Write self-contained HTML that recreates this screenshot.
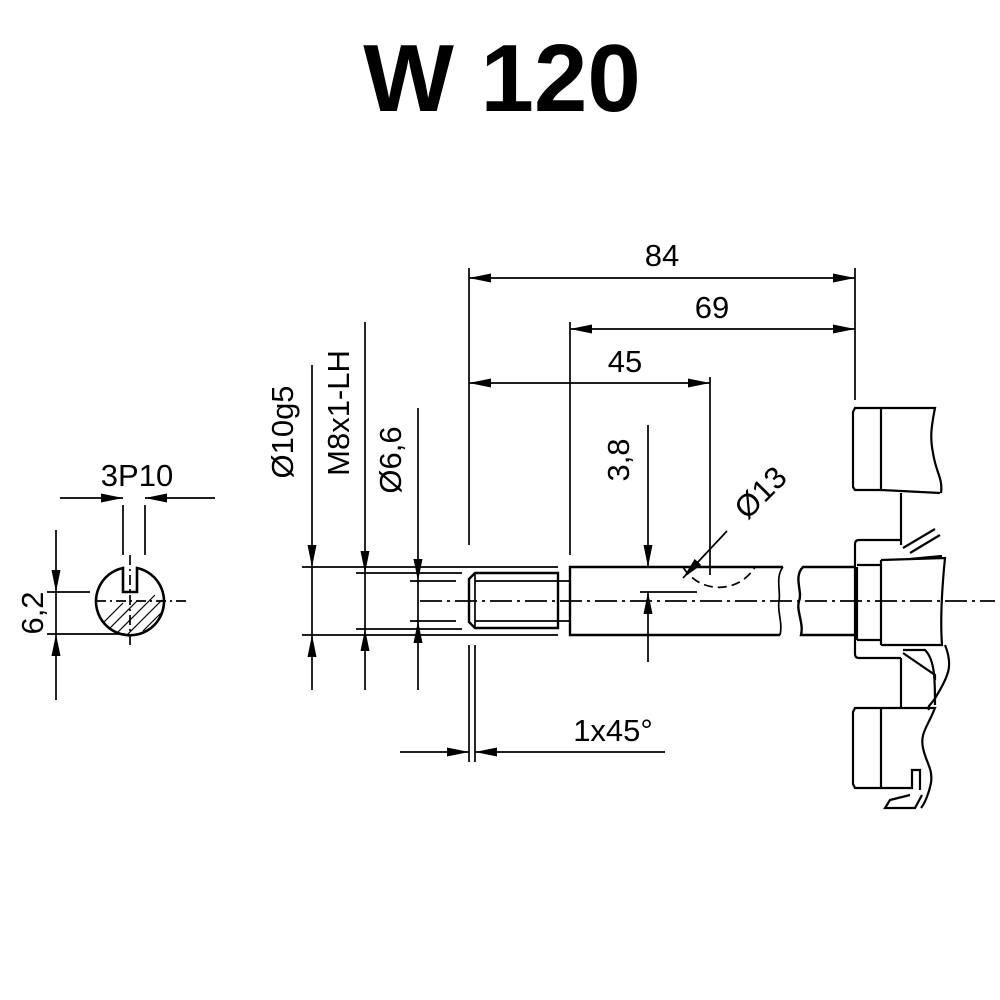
<!DOCTYPE html>
<html><head><style>body{margin:0;background:#fff}svg{display:block}</style></head><body>
<svg width="1000" height="1000" viewBox="0 0 1000 1000" xmlns="http://www.w3.org/2000/svg" font-family="Liberation Sans, sans-serif">
<defs>
<marker id="a" viewBox="0 0 22 9" refX="22" refY="4.5" markerWidth="22" markerHeight="9" markerUnits="userSpaceOnUse" orient="auto-start-reverse"><path d="M0,0L22,4.5L0,9Z" fill="#000"/></marker>
</defs>
<text x="502" y="111" font-size="96" font-weight="bold" text-anchor="middle">W 120</text>
<g stroke="#000" fill="none" stroke-width="1.7">
<line x1="469" y1="268" x2="469" y2="545"/>
<line x1="855" y1="268" x2="855" y2="400"/>
<line x1="570" y1="322" x2="570" y2="555"/>
<line x1="710" y1="377" x2="710" y2="575"/>
<line x1="469" y1="278" x2="855" y2="278" marker-start="url(#a)" marker-end="url(#a)"/>
<line x1="570" y1="329" x2="855" y2="329" marker-start="url(#a)" marker-end="url(#a)"/>
<line x1="469" y1="383" x2="710" y2="383" marker-start="url(#a)" marker-end="url(#a)"/>
<line x1="312" y1="365" x2="312" y2="567" marker-end="url(#a)"/>
<line x1="312" y1="635" x2="312" y2="690" marker-start="url(#a)"/>
<line x1="312" y1="567" x2="312" y2="635"/>
<line x1="365" y1="322" x2="365" y2="573" marker-end="url(#a)"/>
<line x1="365" y1="629" x2="365" y2="690" marker-start="url(#a)"/>
<line x1="365" y1="573" x2="365" y2="629"/>
<line x1="418" y1="408" x2="418" y2="581" marker-end="url(#a)"/>
<line x1="418" y1="621" x2="418" y2="690" marker-start="url(#a)"/>
<line x1="418" y1="581" x2="418" y2="621"/>
<line x1="648" y1="425" x2="648" y2="567" marker-end="url(#a)"/>
<line x1="648" y1="592" x2="648" y2="662" marker-start="url(#a)"/>
<line x1="727" y1="531" x2="683" y2="578" marker-end="url(#a)"/>
<line x1="302" y1="567" x2="558" y2="567"/>
<line x1="302" y1="635" x2="558" y2="635"/>
<line x1="356" y1="573" x2="462" y2="573"/>
<line x1="356" y1="629" x2="462" y2="629"/>
<line x1="410" y1="581" x2="456" y2="581"/>
<line x1="410" y1="621" x2="456" y2="621"/>
<line x1="640" y1="592" x2="697" y2="592"/>
<line x1="469" y1="645" x2="469" y2="762"/>
<line x1="475" y1="645" x2="475" y2="762"/>
<line x1="400" y1="752" x2="469" y2="752" marker-end="url(#a)"/>
<line x1="665" y1="752" x2="475" y2="752" marker-end="url(#a)"/>
<path d="M475,573H558V628H475L469,622V579Z" stroke-width="2.4"/>
<line x1="475" y1="573" x2="475" y2="628"/>
<line x1="475" y1="581" x2="570" y2="581"/>
<line x1="475" y1="621" x2="570" y2="621"/>
<path d="M783,567H570V635H780" stroke-width="2.4"/>
<path d="M783,567c-8,10 -2,25 -4,34c-2,10 4,22 1,34"/>
<path d="M855,567H803c-10,10 0,25 -4,34c-3,10 5,22 2,34H855" stroke-width="2.4"/>
<path d="M683,567a42,42 0 0 0 72,0" stroke-dasharray="9,5"/>
<line x1="420" y1="601" x2="995" y2="601" stroke-dasharray="22,5,3,5"/>
<g stroke-width="2.2">
<path d="M881,408H855l-2,4V487l2,3H881V408H935c-4,20 -5,30 -2,45c3,20 10,25 8,40"/>
<path d="M881,490L940,493"/>
<path d="M901,493V545"/>
<path d="M901,540H859q-4,0 -4,4V654q0,4 4,4H901"/>
<path d="M857,567V640M881,560V645M857,565H881M857,640H881"/>
<path d="M881,560L945,558c-3,30 -5,60 -3,87L881,645"/>
<path d="M903,548L935,529M910,553L940,535M910,559L942,556"/>
<path d="M901,658V708M903,653L935,675L935,680M945,645c8,20 4,30 -8,50c-5,10 -10,10 -8,15"/>
<path d="M903,650L925,650c10,10 10,30 10,55"/>
<path d="M881,708H855l-2,4V784l2,4H881V708L935,708c-8,20 -15,25 -12,40c3,15 10,20 8,35c-2,10 -6,20 -10,25"/>
<path d="M881,788H912V770H920V790"/>
<path d="M910,795L890,800L885,808H915L922,795"/>
</g>
<path d="M123,568A34,34 0 1 0 137,568V592H123Z" stroke-width="2.6"/>
<line x1="96" y1="601" x2="186" y2="601" stroke-dasharray="10,4,2,4"/>
<line x1="130" y1="555" x2="130" y2="645" stroke-dasharray="10,4,2,4"/>
<g stroke-width="1.2"><line x1="104" y1="622" x2="123" y2="603"/><line x1="110" y1="628" x2="137" y2="601"/><line x1="117" y1="633" x2="155" y2="595"/><line x1="127" y1="635" x2="162" y2="600"/><line x1="143" y1="631" x2="161" y2="613"/></g>
<line x1="123" y1="505" x2="123" y2="555"/><line x1="145" y1="505" x2="145" y2="555"/>
<line x1="60" y1="498" x2="123" y2="498" marker-end="url(#a)"/>
<line x1="215" y1="498" x2="145" y2="498" marker-end="url(#a)"/>
<line x1="47" y1="592" x2="90" y2="592"/><line x1="47" y1="634" x2="125" y2="634"/>
<line x1="56" y1="530" x2="56" y2="592" marker-end="url(#a)"/>
<line x1="56" y1="700" x2="56" y2="634" marker-end="url(#a)"/>
<line x1="56" y1="592" x2="56" y2="634"/>
</g>
<g font-size="31" fill="#000">
<text x="662" y="266" text-anchor="middle">84</text>
<text x="712" y="318" text-anchor="middle">69</text>
<text x="625" y="372" text-anchor="middle">45</text>
<text x="137" y="486" text-anchor="middle">3P10</text>
<text x="613" y="741" text-anchor="middle">1x45°</text>
<text transform="translate(293,432) rotate(-90)" text-anchor="middle">Ø10g5</text>
<text transform="translate(349,413) rotate(-90)" text-anchor="middle">M8x1-LH</text>
<text transform="translate(401,460) rotate(-90)" text-anchor="middle">Ø6,6</text>
<text transform="translate(629,460) rotate(-90)" text-anchor="middle">3,8</text>
<text transform="translate(43,613) rotate(-90)" text-anchor="middle">6,2</text>
<text transform="translate(768,500) rotate(-45)" text-anchor="middle">Ø13</text>
</g>
</svg>
</body></html>
